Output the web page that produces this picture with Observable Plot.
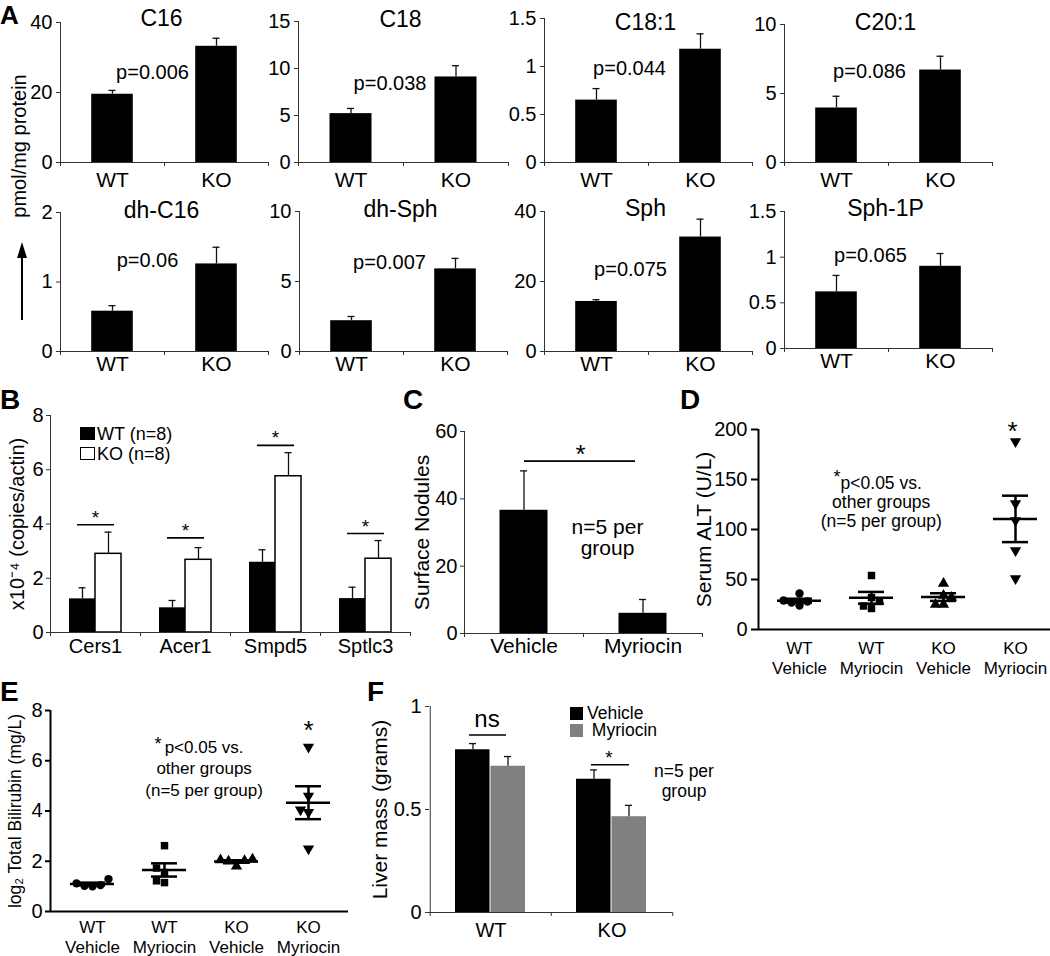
<!DOCTYPE html>
<html><head><meta charset="utf-8">
<script src="https://cdn.jsdelivr.net/npm/d3@7"></script>
<script src="https://cdn.jsdelivr.net/npm/@observablehq/plot@0.6"></script>
<style>
body{margin:0;background:#fff;}
#fig{position:relative;width:1050px;height:956px;background:#fff;overflow:hidden;font-family:"Liberation Sans",Arial,Helvetica,sans-serif;color:#000;}
</style></head><body><div id="fig"></div>
<script>
// ---------- DATA ----------
// Panel A: sphingolipids (pmol/mg protein)
const lipidNames = ["C16","C18","C18:1","C20:1","dh-C16","dh-Sph","Sph","Sph-1P"];
const genotypes = ["WT","KO"];
const lipidWT    = [19.5, 5.2, 0.65, 3.95, 0.58, 2.2, 14.3, 0.62];
const lipidWTErr = [1.1, 0.55, 0.12, 0.85, 0.08, 0.3, 0.5, 0.18];
const lipidKO    = [33.2, 9.1, 1.18, 6.7, 1.26, 5.9, 32.7, 0.90];
const lipidKOErr = [2.3, 1.2, 0.16, 1.0, 0.24, 0.75, 5.1, 0.14];
const lipidYMax  = [40, 15, 1.5, 10, 2, 10, 40, 1.5];
const lipidYTicks = [[0,20,40],[0,5,10,15],[0,0.5,1,1.5],[0,5,10],[0,1,2],[0,5,10],[0,20,40],[0,0.5,1,1.5]];
const lipidPText = ["p=0.006","p=0.038","p=0.044","p=0.086","p=0.06","p=0.007","p=0.075","p=0.065"];
const lipidPLevel = [24, 7.7, 0.91, 6.1, 1.21, 5.9, 21.7, 0.945];

// Panel B: gene expression x10^-4 copies/actin
const genes = ["Cers1","Acer1","Smpd5","Sptlc3"];
const geneWT    = [1.24, 0.91, 2.59, 1.25];
const geneWTErr = [0.41, 0.27, 0.46, 0.42];
const geneKO    = [2.9, 2.68, 5.76, 2.72];
const geneKOErr = [0.8, 0.45, 0.87, 0.67];
const geneSig   = [3.97, 3.49, 6.9, 3.65];
const bLegend = ["WT (n=8)","KO (n=8)"];

// Panel C: surface nodules
const treatments = ["Vehicle","Myriocin"];
const nodules    = [36.6, 6.0];
const nodulesErr = [11.7, 4.1];
const nodulesSig = 51.2;

// Panel D: serum ALT (U/L), n=5 per group
const groupsDE = ["WT\nVehicle","WT\nMyriocin","KO\nVehicle","KO\nMyriocin"];
const altWTVehicle  = [36, 29, 28, 27, 24];
const altWTMyriocin = [54, 32, 28, 23.5, 21];
const altKOVehicle  = [46, 34, 32, 25, 25];
const altKOMyriocin = [188, 126, 109, 79, 51];

// Panel E: log2 total bilirubin (mg/L)
const bilWTVehicle  = [1.29, 1.12, 1.05, 1.02, 1.0];
const bilWTMyriocin = [2.62, 1.73, 1.55, 1.22, 1.15];
const bilKOVehicle  = [2.08, 2.05, 2.02, 2.0, 1.8];
const bilKOMyriocin = [6.55, 4.6, 4.05, 3.95, 2.5];

// Panel F: liver mass (grams)
const liverVehicle     = [0.79, 0.647];
const liverVehicleErr  = [0.03, 0.045];
const liverMyriocin    = [0.71, 0.465];
const liverMyriocinErr = [0.047, 0.055];

// ---------- HELPERS ----------
const FONT = '"Liberation Sans", Arial, Helvetica, sans-serif';
const AX = "#333";
const fig = document.getElementById("fig");

function addPlot(frame, m, opts) {
  const [x0, x1, y0, y1] = frame;
  const width = x1 - x0 + m.l + m.r, height = y1 - y0 + m.t + m.b;
  const svg = Plot.plot({
    width, height, marginLeft: m.l, marginRight: m.r, marginTop: m.t, marginBottom: m.b,
    style: {fontFamily: FONT, background: "none", overflow: "visible", color: "#000"},
    ...opts
  });
  Object.assign(svg.style, {position: "absolute", left: (x0 - m.l) + "px", top: (y0 - m.t) + "px", maxWidth: "none"});
  fig.appendChild(svg);
}
// HTML text positioned by its (first) baseline (line-height lh em)
function htmlText(str, x, baseline, fs, extra = {}, lh = 1) {
  const d = document.createElement("div");
  d.textContent = str;
  const off = (lh - 1.117) / 2 + 0.905;
  Object.assign(d.style, {position: "absolute", left: x + "px", top: (baseline - off * fs) + "px",
    fontSize: fs + "px", lineHeight: String(lh), whiteSpace: "pre"}, extra);
  fig.appendChild(d);
  return d;
}
function box(x, y, w, h, style) {
  const d = document.createElement("div");
  Object.assign(d.style, {position: "absolute", left: x + "px", top: y + "px", width: w + "px", height: h + "px", boxSizing: "border-box"}, style);
  fig.appendChild(d);
}
function yTitle(text, dx, fs) {
  return Plot.text([text], {text: d => d, frameAnchor: "left", textAnchor: "middle", lineAnchor: "middle", rotate: -90, dx, fontSize: fs});
}
const STAR = 0.58; // asterisk glyph centre above baseline (em)

// ---------- PANEL A ----------
const aFrames = [[60,268,22,162],[298,508,21,162],[544,752,18,162],[784,992,24,162],
                 [60,268,212,351],[299,507,211,351],[544,752,211,351],[784,992,211,348]];
const aTitleBase = [25, 26, 29, 29, 217, 216, 215, 215];
const aLabelPad = [10, 10, 10, 10, 5, 5, 5, 5];
const aPdx = [40, 39, 33, 33, 35, 38, 34, 34];
lipidNames.forEach((name, i) => {
  const fr = aFrames[i];
  const step = (fr[1] - fr[0]) / 2;
  const rows = genotypes.map((g, j) => ({g, v: [lipidWT, lipidKO][j][i], e: [lipidWTErr, lipidKOErr][j][i]}));
  const yMax = lipidYMax[i];
  addPlot(fr, {l: 60, r: 10, t: 36, b: 36}, {
    x: {domain: genotypes, padding: 0, axis: null},
    y: {domain: [0, yMax], axis: null},
    marks: [
      Plot.barY(rows, {x: "g", y: "v", fill: "#000", insetLeft: step * 0.3, insetRight: step * 0.3}),
      Plot.ruleX(rows, {x: "g", y1: "v", y2: d => d.v + d.e, stroke: "#111", strokeWidth: 1.3}),
      Plot.tickY(rows, {x: "g", y: d => d.v + d.e, insetLeft: step / 2 - 3.5, insetRight: step / 2 - 3.5, stroke: "#111", strokeWidth: 1.3}),
      Plot.ruleY([0], {stroke: AX}),
      Plot.ruleX([genotypes[0]], {x: d => d, y1: 0, y2: yMax, dx: -step / 2, stroke: AX}),
      Plot.axisY({ticks: lipidYTicks[i], tickSize: 4, tickPadding: 4, tickFormat: d => String(d), fontSize: 20, label: null, stroke: AX}),
      Plot.axisX({tickSize: 0, tickPadding: aLabelPad[i], fontSize: 21, label: null}),
      Plot.axisX({tickSize: 4, tickFormat: () => "", dx: -step / 2, label: null, stroke: AX}),
      Plot.axisX({ticks: [genotypes[1]], tickSize: 4, tickFormat: () => "", dx: step / 2, label: null, stroke: AX}),
      Plot.text([name], {text: d => d, frameAnchor: "top", dx: -3, dy: aTitleBase[i] - fr[2], lineAnchor: "bottom", fontSize: 23}),
      Plot.text([{g: "WT", y: lipidPLevel[i], t: lipidPText[i]}], {x: "g", y: "y", text: "t", dx: aPdx[i], lineAnchor: "bottom", fontSize: 20})
    ]
  });
});
// shared y label with arrow
(() => {
  const pm = document.createElement("div");
  pm.textContent = "pmol/mg protein";
  Object.assign(pm.style, {position: "absolute", left: "19px", top: "146px", transform: "translate(-50%,-50%) rotate(-90deg)",
    fontSize: "20px", lineHeight: "1", whiteSpace: "nowrap"});
  fig.appendChild(pm);
  box(21.25, 256, 1.5, 64, {background: "#000"});
  box(17, 242, 0, 0, {borderLeft: "5px solid transparent", borderRight: "5px solid transparent", borderBottom: "16px solid #000"});
})();
htmlText("A", 0, 24, 26, {fontWeight: "bold"}, 0.8);

// ---------- PANEL B ----------
(() => {
  const fr = [50, 410, 415, 632];
  const rows = genes.map((gene, i) => ({gene, wt: geneWT[i], wte: geneWTErr[i], ko: geneKO[i], koe: geneKOErr[i], sig: geneSig[i]}));
  const ek = {stroke: "#111", strokeWidth: 1.3};
  addPlot(fr, {l: 60, r: 20, t: 30, b: 40}, {
    x: {domain: genes, padding: 0, axis: null},
    y: {domain: [0, 8], axis: null},
    marks: [
      Plot.barY(rows, {x: "gene", y: "wt", fill: "#000", insetLeft: 19, insetRight: 45}),
      Plot.barY(rows, {x: "gene", y: "ko", fill: "#fff", stroke: "#000", strokeWidth: 1.5, insetLeft: 45, insetRight: 19}),
      Plot.ruleX(rows, {x: "gene", y1: "wt", y2: d => d.wt + d.wte, dx: -13, ...ek}),
      Plot.tickY(rows, {x: "gene", y: d => d.wt + d.wte, dx: -13, insetLeft: 41.5, insetRight: 41.5, ...ek}),
      Plot.ruleX(rows, {x: "gene", y1: "ko", y2: d => d.ko + d.koe, dx: 13, ...ek}),
      Plot.tickY(rows, {x: "gene", y: d => d.ko + d.koe, dx: 13, insetLeft: 41.5, insetRight: 41.5, ...ek}),
      Plot.tickY(rows, {x: "gene", y: "sig", insetLeft: 27, insetRight: 26, stroke: "#000", strokeWidth: 1.6}),
      Plot.text(rows, {x: "gene", y: "sig", text: () => "*", dy: -12 + STAR * 19, lineAnchor: "bottom", fontSize: 19}),
      Plot.ruleY([0], {stroke: AX}),
      Plot.ruleX([genes[0]], {x: d => d, y1: 0, y2: 8, dx: -45, stroke: AX}),
      Plot.axisY({ticks: [0, 2, 4, 6, 8], tickSize: 4, tickPadding: 3, fontSize: 20, label: null, stroke: AX}),
      Plot.axisX({tickSize: 0, tickPadding: 6, fontSize: 20, label: null}),
      Plot.axisX({tickSize: 4, tickFormat: () => "", dx: -45, label: null, stroke: AX}),
      Plot.axisX({ticks: [genes[3]], tickSize: 4, tickFormat: () => "", dx: 45, label: null, stroke: AX}),
      yTitle("x10⁻⁴ (copies/actin)", -33, 20)
    ]
  });
  box(80, 427, 15, 13, {background: "#000"});
  box(80, 447, 15, 13, {background: "#fff", border: "1.5px solid #000"});
  htmlText(bLegend[0] + "\n" + bLegend[1], 97, 440.7, 18, {}, 20 / 18);
  htmlText("B", 0, 410, 28, {fontWeight: "bold"}, 0.8);
})();

// ---------- PANEL C ----------
(() => {
  const fr = [464, 702, 431, 633];
  const rows = treatments.map((t, i) => ({t, v: nodules[i], e: nodulesErr[i]}));
  const ek = {stroke: "#111", strokeWidth: 1.3};
  addPlot(fr, {l: 60, r: 20, t: 30, b: 40}, {
    x: {domain: treatments, padding: 0, axis: null},
    y: {domain: [0, 60], axis: null},
    marks: [
      Plot.barY(rows, {x: "t", y: "v", fill: "#000", insetLeft: 35.5, insetRight: 35.5}),
      Plot.ruleX(rows, {x: "t", y1: "v", y2: d => d.v + d.e, ...ek}),
      Plot.tickY(rows, {x: "t", y: d => d.v + d.e, insetLeft: 56, insetRight: 56, ...ek}),
      Plot.ruleY([nodulesSig], {insetLeft: 60, insetRight: 67, stroke: "#000", strokeWidth: 1.6}),
      Plot.text([{t: "Vehicle", y: nodulesSig}], {x: "t", y: "y", text: () => "*", dx: 56.5, dy: -13 + STAR * 26, lineAnchor: "bottom", fontSize: 26}),
      Plot.text([{t: "Myriocin", y: 33.9}], {x: "t", y: "y", text: () => "n=5 per\ngroup", dx: -35.5, lineAnchor: "top", lineHeight: 1.0, fontSize: 21}),
      Plot.ruleY([0], {stroke: AX}),
      Plot.ruleX([treatments[0]], {x: d => d, y1: 0, y2: 60, dx: -59.5, stroke: AX}),
      Plot.axisY({ticks: [0, 20, 40, 60], tickSize: 4, tickPadding: 3, fontSize: 20, label: null, stroke: AX}),
      Plot.axisX({tickSize: 0, tickPadding: 5, fontSize: 21, label: null}),
      Plot.axisX({tickSize: 4, tickFormat: () => "", dx: -59.5, label: null, stroke: AX}),
      Plot.axisX({ticks: [treatments[1]], tickSize: 4, tickFormat: () => "", dx: 59.5, label: null, stroke: AX}),
      yTitle("Surface Nodules", -42, 21)
    ]
  });
  htmlText("C", 403, 410, 28, {fontWeight: "bold"}, 0.8);
})();

// ---------- SCATTER PANELS D & E ----------
function dodge(values, pxPerUnit, d) {
  const order = d3.range(values.length).sort((a, b) => values[a] - values[b]);
  const placed = [], off = new Array(values.length).fill(0);
  const cands = [0, -1, 1, -2, 2, -3, 3];
  for (const i of order) {
    const y = values[i] * pxPerUnit;
    for (const c of cands) {
      const x = c * d;
      if (placed.every(p => Math.hypot(p.x - x, p.y - y) >= d)) { placed.push({x, y}); off[i] = x; break; }
    }
  }
  return off;
}
const symbolsDE = ["circle", "square", "triangle", "triangle"];
const rotateDE = [0, 0, 0, 180];
function scatterPanel(cfg) {
  const {frame, x0px, yMax, yTicks, series, tickSize, tickPadding, labelPad, title, titleDx, titleFs, extra} = cfg;
  const step = 72;
  const pxPerUnit = (frame[3] - frame[2]) / yMax;
  const xDomain = [-(x0px - frame[0]) / step, (frame[1] - x0px) / step];
  const pts = [], stats = [];
  series.forEach((vals, gi) => {
    const off = dodge(vals, pxPerUnit, 8);
    vals.forEach((v, k) => pts.push({gi, v, x: gi + off[k] / step}));
    const mean = d3.mean(vals), sem = d3.deviation(vals) / Math.sqrt(vals.length);
    stats.push({gi, mean, lo: mean - sem, hi: mean + sem});
  });
  const mw = 22 / step, cw = 13 / step;
  const lk = {stroke: "#000", strokeWidth: 2.5};
  addPlot(frame, {l: 70, r: 20, t: 40, b: 60}, {
    x: {domain: xDomain, axis: null},
    y: {domain: [0, yMax], axis: null},
    marks: [
      ...series.map((_, gi) => Plot.dot(pts.filter(p => p.gi === gi), {x: "x", y: "v", symbol: symbolsDE[gi], rotate: rotateDE[gi], r: 4.2, fill: "#000", stroke: "none"})),
      Plot.ruleY(stats, {y: "mean", x1: d => d.gi - mw, x2: d => d.gi + mw, ...lk}),
      Plot.ruleX(stats, {x: "gi", y1: "lo", y2: "hi", ...lk}),
      Plot.ruleY(stats, {y: "hi", x1: d => d.gi - cw, x2: d => d.gi + cw, ...lk}),
      Plot.ruleY(stats, {y: "lo", x1: d => d.gi - cw, x2: d => d.gi + cw, ...lk}),
      Plot.ruleY([0], {stroke: "#000", strokeWidth: 2}),
      Plot.ruleX([xDomain[0]], {y1: 0, y2: yMax, stroke: "#000", strokeWidth: 2}),
      Plot.axisY({ticks: yTicks, tickSize, tickPadding, strokeWidth: 2, fontSize: 20, label: null, stroke: "#000"}),
      Plot.text(d3.range(groupsDE.length), {x: i => i, text: i => groupsDE[i], frameAnchor: "bottom", dy: labelPad, lineAnchor: "top", lineHeight: 1.18, fontSize: 17}),
      yTitle(title, titleDx, titleFs),
      ...extra
    ]
  });
}
// Panel D
scatterPanel({
  frame: [758, 1050, 429, 629], x0px: 799, yMax: 200, yTicks: [0, 50, 100, 150, 200],
  series: [altWTVehicle, altWTMyriocin, altKOVehicle, altKOMyriocin],
  tickSize: 7, tickPadding: 4, labelPad: 10, title: "Serum ALT (U/L)", titleDx: -54, titleFs: 21,
  extra: [
    Plot.text([{x: 2.96, y: 189.2}], {x: "x", y: "y", text: () => "*", lineAnchor: "bottom", fontSize: 26}),
    Plot.text([{x: 0.52, y: 146.9}], {x: "x", y: "y", text: () => "*", lineAnchor: "bottom", fontSize: 18}),
    Plot.text([{x: 1.135, y: 154.4}], {x: "x", y: "y", text: () => "p<0.05 vs.\nother groups\n(n=5 per group)", lineAnchor: "top", lineHeight: 1.1, fontSize: 17.5})
  ]
});
htmlText("D", 680, 410, 28, {fontWeight: "bold"}, 0.8);
// Panel E
scatterPanel({
  frame: [50, 348, 710, 911], x0px: 92, yMax: 8, yTicks: [0, 2, 4, 6, 8],
  series: [bilWTVehicle, bilWTMyriocin, bilKOVehicle, bilKOMyriocin],
  tickSize: 5, tickPadding: 3, labelPad: 7, title: "log₂ Total Bilirubin (mg/L)", titleDx: -35, titleFs: 17.5,
  extra: [
    Plot.text([{x: 3, y: 6.88}], {x: "x", y: "y", text: () => "*", lineAnchor: "bottom", fontSize: 26}),
    Plot.text([{x: 0.91, y: 6.43}], {x: "x", y: "y", text: () => "*", lineAnchor: "bottom", fontSize: 18}),
    Plot.text([{x: 1.55, y: 6.9}], {x: "x", y: "y", text: () => "p<0.05 vs.\nother groups\n(n=5 per group)", lineAnchor: "top", lineHeight: 1.25, fontSize: 17})
  ]
});
htmlText("E", 0, 702, 28, {fontWeight: "bold"}, 0.8);

// ---------- PANEL F ----------
(() => {
  const fr = [429, 672, 706, 912];
  const rows = genotypes.map((g, i) => ({g, veh: liverVehicle[i], vehE: liverVehicleErr[i], myr: liverMyriocin[i], myrE: liverMyriocinErr[i]}));
  const ek = {stroke: "#111", strokeWidth: 1.3};
  const half = (fr[1] - fr[0]) / 4;
  addPlot(fr, {l: 70, r: 20, t: 30, b: 40}, {
    x: {domain: genotypes, padding: 0, axis: null},
    y: {domain: [0, 1], axis: null},
    marks: [
      Plot.barY(rows, {x: "g", y: "veh", fill: "#000", insetLeft: 25, insetRight: 61.5}),
      Plot.barY(rows, {x: "g", y: "myr", fill: "#808080", insetLeft: 60.5, insetRight: 26}),
      Plot.ruleX(rows, {x: "g", y1: "veh", y2: d => d.veh + d.vehE, dx: -18, ...ek}),
      Plot.tickY(rows, {x: "g", y: d => d.veh + d.vehE, dx: -18, insetLeft: 57, insetRight: 57, ...ek}),
      Plot.ruleX(rows, {x: "g", y1: "myr", y2: d => d.myr + d.myrE, dx: 17, ...ek}),
      Plot.tickY(rows, {x: "g", y: d => d.myr + d.myrE, dx: 17, insetLeft: 57, insetRight: 57, ...ek}),
      Plot.tickY([{g: "WT", y: 0.862}], {x: "g", y: "y", insetLeft: 39, insetRight: 45, stroke: "#000", strokeWidth: 1.6}),
      Plot.text([{g: "WT", y: 0.862}], {x: "g", y: "y", text: () => "ns", dx: -4, dy: -7.6, lineAnchor: "bottom", fontSize: 24}),
      Plot.tickY([{g: "KO", y: 0.717}], {x: "g", y: "y", insetLeft: 40, insetRight: 43, stroke: "#000", strokeWidth: 1.6}),
      Plot.text([{g: "KO", y: 0.717}], {x: "g", y: "y", text: () => "*", dx: -3, dy: -12 + STAR * 19, lineAnchor: "bottom", fontSize: 19}),
      Plot.text([{g: "KO", y: 0.729}], {x: "g", y: "y", text: () => "n=5 per\ngroup", dx: 72, lineAnchor: "top", lineHeight: 1.15, fontSize: 17.5}),
      Plot.ruleY([0], {stroke: AX}),
      Plot.ruleX([genotypes[0]], {x: d => d, y1: 0, y2: 1, dx: -half, stroke: AX}),
      Plot.axisY({ticks: [0, 0.5, 1], tickSize: 4, tickPadding: 4, tickFormat: d => String(d), fontSize: 20, label: null, stroke: AX}),
      Plot.axisX({tickSize: 0, tickPadding: 10, fontSize: 20, label: null}),
      Plot.axisX({tickSize: 4, tickFormat: () => "", dx: -half, label: null, stroke: AX}),
      Plot.axisX({ticks: [genotypes[1]], tickSize: 4, tickFormat: () => "", dx: half, label: null, stroke: AX}),
      yTitle("Liver mass (grams)", -49, 21)
    ]
  });
  box(570, 707, 13, 13, {background: "#000"});
  box(570, 724, 13, 13, {background: "#808080"});
  htmlText(treatments[0] + "\n " + treatments[1], 587, 720, 17.5, {}, 17 / 17.5);
  htmlText("F", 367, 702, 28, {fontWeight: "bold"}, 0.8);
})();
</script></body></html>
